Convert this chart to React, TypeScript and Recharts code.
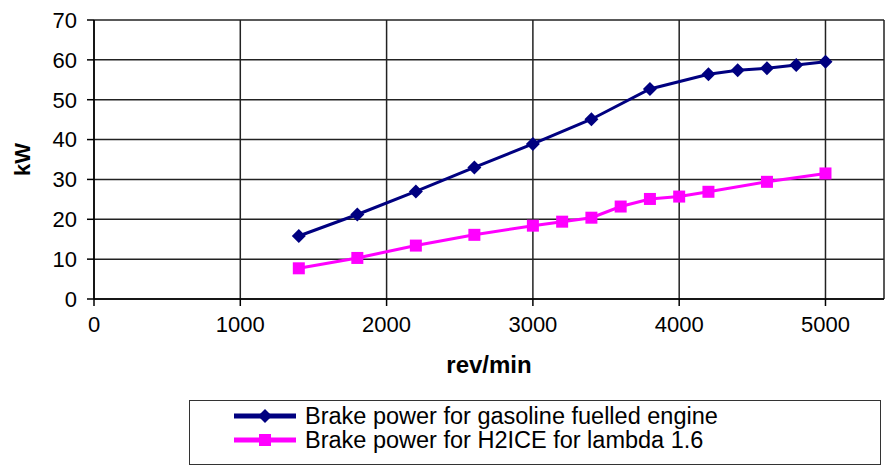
import React from 'react';
import { LineChart, Line, XAxis, YAxis, CartesianGrid, Legend, Label } from 'recharts';

// Engine speed (rev/min) and brake power (kW) for each engine
const gasolineRpm = [1400, 1800, 2200, 2600, 3000, 3400, 3800, 4200, 4400, 4600, 4800, 5000];
const gasolineKw = [15.8, 21.2, 27.0, 33.0, 38.9, 45.1, 52.7, 56.4, 57.4, 57.9, 58.7, 59.5];

const h2iceRpm = [1400, 1800, 2200, 2600, 3000, 3200, 3400, 3600, 3800, 4000, 4200, 4600, 5000];
const h2iceKw = [7.7, 10.3, 13.4, 16.1, 18.4, 19.4, 20.4, 23.2, 25.1, 25.7, 26.9, 29.4, 31.5];

const xTicks = [0, 1000, 2000, 3000, 4000, 5000];
const yTicks = [0, 10, 20, 30, 40, 50, 60, 70];

const seriesNames = [
  'Brake power for gasoline fuelled engine',
  'Brake power for H2ICE for lambda 1.6',
];

const NAVY = '#000080';
const MAGENTA = '#FF00FF';
const FONT = '"Liberation Sans", Arial, Helvetica, sans-serif';

const gasolineData = gasolineRpm.map((rpm, i) => ({ rpm, kw: gasolineKw[i] }));
const h2iceData = h2iceRpm.map((rpm, i) => ({ rpm, kw: h2iceKw[i] }));

const DiamondDot = (props: any) => {
  const { cx, cy, index } = props;
  if (cx == null || cy == null) return null;
  const r = 7;
  return (
    <path
      key={`g-${index}`}
      d={`M${cx},${cy - r}L${cx + r},${cy}L${cx},${cy + r}L${cx - r},${cy}Z`}
      fill={NAVY}
    />
  );
};

const SquareDot = (props: any) => {
  const { cx, cy, index } = props;
  if (cx == null || cy == null) return null;
  const s = 6;
  return <rect key={`h-${index}`} x={cx - s} y={cy - s} width={s * 2} height={s * 2} fill={MAGENTA} />;
};

const LegendBox = () => (
  <div
    style={{
      position: 'relative',
      width: 692,
      height: 65,
      border: '1.5px solid #333',
      boxSizing: 'border-box',
      background: '#fff',
      fontFamily: FONT,
      fontSize: 23.5,
      color: '#000',
    }}
  >
    {seriesNames.map((name, i) => (
      <div
        key={name}
        style={{ position: 'absolute', left: 43, top: 3 + i * 24, height: 24, display: 'flex', alignItems: 'center' }}
      >
        <svg width={64} height={24} style={{ display: 'block' }}>
          <line x1={1} y1={12} x2={63} y2={12} stroke={i === 0 ? NAVY : MAGENTA} strokeWidth={5} />
          {i === 0 ? (
            <path d="M32,5L39,12L32,19L25,12Z" fill={NAVY} />
          ) : (
            <rect x={26} y={6} width={12} height={12} fill={MAGENTA} />
          )}
        </svg>
        <span style={{ marginLeft: 8, lineHeight: '24px', whiteSpace: 'nowrap' }}>{name}</span>
      </div>
    ))}
  </div>
);

export default function App() {
  return (
    <div
      style={{
        position: 'absolute',
        left: 0,
        top: 0,
        width: 885,
        height: 468,
        overflow: 'hidden',
        background: '#fff',
      }}
    >
      <LineChart width={885} height={468} margin={{ top: 20, right: 1, left: 0, bottom: 89 }}>
        <CartesianGrid stroke="#222" strokeWidth={1.5} horizontal vertical />
        <XAxis
          type="number"
          dataKey="rpm"
          domain={[0, 5400]}
          ticks={xTicks}
          allowDataOverflow
          height={80}
          tickSize={7}
          tickMargin={10}
          stroke="#000"
          strokeWidth={1.5}
          tick={{ fill: '#000', fontSize: 22, fontFamily: FONT }}
        >
          <Label
            value="rev/min"
            position="insideBottom"
            offset={6}
            style={{ fontFamily: FONT, fontSize: 24, fontWeight: 'bold', fill: '#000' }}
          />
        </XAxis>
        <YAxis
          type="number"
          domain={[0, 70]}
          ticks={yTicks}
          width={94}
          tickSize={7}
          tickMargin={10}
          stroke="#000"
          strokeWidth={1.5}
          tick={{ fill: '#000', fontSize: 22, fontFamily: FONT }}
        >
          <Label
            value="kW"
            angle={-90}
            position="insideLeft"
            offset={22}
            style={{ fontFamily: FONT, fontSize: 22, fontWeight: 'bold', fill: '#000', textAnchor: 'middle' }}
          />
        </YAxis>
        <Line
          data={gasolineData}
          dataKey="kw"
          name={seriesNames[0]}
          stroke={NAVY}
          strokeWidth={3}
          dot={DiamondDot}
          activeDot={false}
          isAnimationActive={false}
        />
        <Line
          data={h2iceData}
          dataKey="kw"
          name={seriesNames[1]}
          stroke={MAGENTA}
          strokeWidth={3}
          dot={SquareDot}
          activeDot={false}
          isAnimationActive={false}
        />
        <Legend
          layout="vertical"
          align="center"
          verticalAlign="middle"
          content={LegendBox}
          wrapperStyle={{ position: 'absolute', left: 189, top: 400, width: 692, height: 65 }}
        />
      </LineChart>
    </div>
  );
}
